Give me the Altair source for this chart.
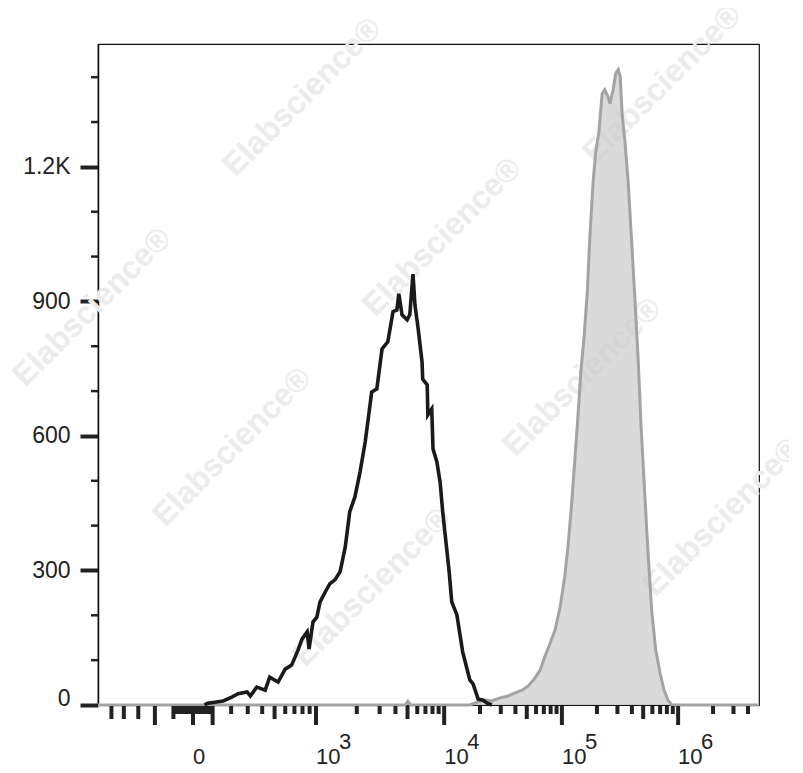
import altair as alt
import numpy as np
import pandas as pd

# ---------------- data (display channel 0-1024, event count) ----------------
# black outline histogram (control)
ctrl_ch = [165, 170, 181, 194, 208, 217, 231, 236, 246, 259, 266, 279, 290, 300, 310,
           316, 324, 327, 333, 339, 344, 352, 359, 367, 375, 383, 390, 398, 406, 414,
           424, 432, 440, 449, 457, 463, 466, 471, 479, 483, 488, 491, 496, 502, 503,
           510, 511, 517, 519, 525, 530, 534, 539, 544, 548, 556, 565, 576, 581, 589,
           596, 603, 610]
ctrl_n = [0, 4, 6, 9, 18, 25, 29, 20, 40, 33, 62, 51, 80, 89, 123,
          147, 163, 125, 185, 196, 230, 252, 270, 279, 297, 352, 431, 464, 520, 587,
          698, 705, 794, 810, 877, 881, 917, 870, 859, 870, 961, 892, 839, 765, 727,
          714, 647, 660, 571, 542, 497, 431, 364, 297, 230, 201, 118, 56, 47, 13,
          11, 4, 0]

# gray filled histogram (stained)
stain_ch = [0, 470, 476, 480, 484, 576, 589, 600, 610, 623, 635, 646, 657, 666, 675,
            685, 692, 700, 708, 716, 723, 728, 734, 739, 744, 748, 753, 758, 762, 767,
            771, 776, 781, 785, 790, 793, 798, 802, 806, 809, 812, 816, 821, 827, 832,
            837, 841, 846, 852, 858, 864, 871, 877, 883, 889, 1024]
stain_n = [0, 0, 0, 8, 0, 0, 7, 11, 9, 16, 20, 27, 33, 42, 56,
           78, 107, 136, 167, 219, 286, 352, 453, 553, 654, 743, 821, 921, 1044, 1166,
           1233, 1278, 1363, 1372, 1357, 1341, 1372, 1408, 1417, 1401, 1318, 1262, 1173, 1026, 899,
           765, 631, 498, 341, 207, 123, 69, 33, 11, 0, 0]

# y axis
y_major = [0, 300, 600, 900, 1200]
y_minor = [100, 200, 400, 500, 700, 800, 1000, 1100, 1300, 1400]

# x axis labels (fluorescence values)
x_label_vals = [0, 1e3, 1e4, 1e5, 1e6]
x_label_base = ["0", "10", "10", "10", "10"]
x_label_exp = ["", "3", "4", "5", "6"]

watermark_text = "Elabscience®"

# ---------------- biexponential (logicle-like) display transform ----------------
LA, LP, LK, LCH0 = 65.8, 2.87, 78.05, 147.2
_u = np.linspace(0, 14, 40001)
_s = LA * (np.exp(_u) - LP ** 2 * np.exp(-_u / LP) + LP ** 2 - 1)


def to_channel(v):
    v = np.asarray(v, dtype=float)
    u = np.interp(np.abs(v), _s, _u)
    return LCH0 + LK * np.sign(v) * u


# tick values
tick_vals, tick_kind = [], []
for m in range(5, 0, -1):
    tick_vals.append(-m * 100.0); tick_kind.append("major" if m == 2 else "mid")
for m in range(9, 0, -1):
    tick_vals.append(-m * 10.0); tick_kind.append("minor")
tick_vals.append(0.0); tick_kind.append("major")
for e in range(1, 7):
    for m in range(1, 10):
        v = m * 10.0 ** e
        if v > 4.5e6:
            break
        tick_vals.append(v)
        if m == 1 and e >= 2:
            tick_kind.append("major")
        elif m == 5 and e >= 2:
            tick_kind.append("mid")
        else:
            tick_kind.append("minor")
ticks_df = pd.DataFrame({"ch": to_channel(tick_vals), "kind": tick_kind})

W, H = 661, 661
xs = alt.Scale(domain=[0, 1024], nice=False, zero=False)
ys = alt.Scale(domain=[0, 1474], nice=False, zero=False)
yax = alt.Axis(values=y_major,
               labelExpr="datum.value >= 1000 ? format(datum.value/1000, '.1f') + 'K' : format(datum.value, 'd')",
               labelOffset={"condition": {"test": "datum.value == 0", "value": -7}, "value": 0},
               tickSize=18, tickWidth=4, tickColor="#222222",
               labelFontSize=23, labelFont="Liberation Sans", labelColor="#222222",
               labelPadding=10, domainColor="#111111", domainWidth=1.5,
               grid=False, title=None)

ctrl_df = pd.DataFrame({"ch": ctrl_ch, "n": ctrl_n})
stain_df = pd.DataFrame({"ch": stain_ch, "n": stain_n})

# watermark lattice (page pixel layout converted to data units), kept inside the page
wm = []
for i in range(-2, 5):
    for j in range(-2, 4):
        px = 302 + 140 * i - 210 * j
        py = 97 + 140 * i + 210 * j
        if 80 <= px <= 725 and 80 <= py <= 690:
            wm.append((px, py))
wm += [(662, 84)]
wm_df = pd.DataFrame({
    "ch": [(p[0] - 98) * 1024 / W for p in wm],
    "n": [(705 - p[1]) * 1474 / H for p in wm],
    "t": [watermark_text] * len(wm),
})

watermark = alt.Chart(wm_df).mark_text(
    angle=315, fontSize=32, fontWeight="bold", font="Liberation Sans",
    color="#ececec", align="center", baseline="middle"
).encode(x=alt.X("ch:Q", scale=xs, axis=None), y=alt.Y("n:Q", scale=ys, axis=yax), text="t:N")

gray = alt.Chart(stain_df).mark_area(
    color="#cbcbcb", line={"color": "#a3a3a3", "strokeWidth": 3}
).encode(x=alt.X("ch:Q", scale=xs, axis=None), y=alt.Y("n:Q", scale=ys, axis=yax))

black = alt.Chart(ctrl_df).mark_line(color="#1a1a1a", strokeWidth=3.6).encode(
    x=alt.X("ch:Q", scale=xs, axis=None), y=alt.Y("n:Q", scale=ys, axis=yax))

yminor = alt.Chart(pd.DataFrame({"n": y_minor})).mark_rule(color="#222222", strokeWidth=2.5).encode(
    y=alt.Y("n:Q", scale=ys, axis=yax), x=alt.value(-7), x2=alt.value(0))

tick_layers = []
for kind, ln in [("major", 19), ("mid", 13), ("minor", 8)]:
    tick_layers.append(
        alt.Chart(ticks_df[ticks_df.kind == kind]).mark_rule(color="#222222", strokeWidth=4).encode(
            x=alt.X("ch:Q", scale=xs, axis=None), y=alt.value(H + 1), y2=alt.value(H + 1 + ln)))

lab_df = pd.DataFrame({"ch": to_channel(x_label_vals), "base": x_label_base, "exp": x_label_exp})
lab_base = alt.Chart(lab_df).mark_text(
    align="left", baseline="alphabetic", fontSize=22, font="Liberation Sans", color="#222222"
).encode(x=alt.X("ch:Q", scale=xs, axis=None), y=alt.value(720), text="base:N")
lab_exp = alt.Chart(lab_df[lab_df.exp != ""]).mark_text(
    align="left", baseline="alphabetic", fontSize=22, font="Liberation Sans", color="#222222", dx=23
).encode(x=alt.X("ch:Q", scale=xs, axis=None), y=alt.value(705), text="exp:N")

chart = alt.layer(watermark, gray, black, yminor, *tick_layers, lab_base, lab_exp).properties(
    width=W, height=H,
    padding={"left": 90, "top": 36, "right": 30, "bottom": 60},
    autosize=alt.AutoSizeParams(type="none"),
).configure_view(stroke="#111111", strokeWidth=1.2)

chart.save("out.html", embed_options={"renderer": "svg", "actions": False})
